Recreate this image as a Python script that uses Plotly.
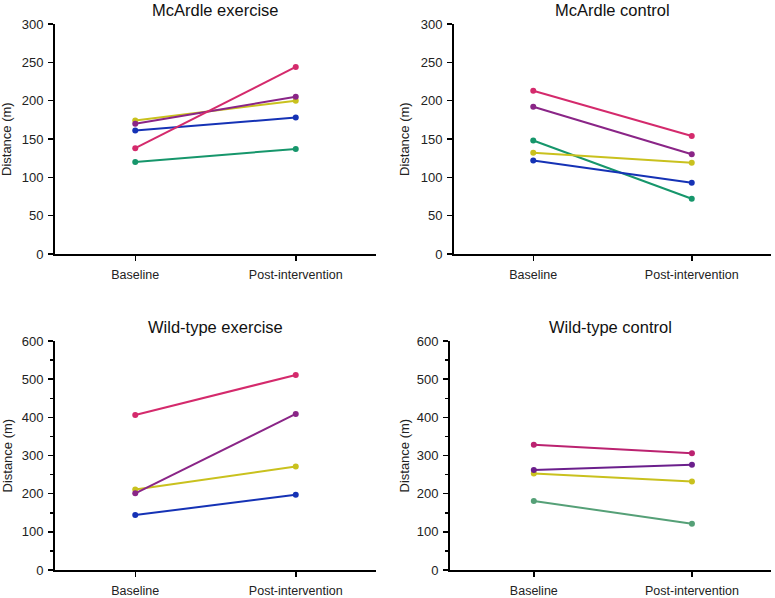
import plotly.graph_objects as go

categories = ["Baseline", "Post-intervention"]

# McArdle exercise
mce_green = [120, 137]
mce_blue = [161, 178]
mce_yellow = [174, 200]
mce_purple = [170, 205]
mce_pink = [138, 244]

# McArdle control
mcc_green = [148, 72]
mcc_blue = [122, 93]
mcc_yellow = [132, 119]
mcc_purple = [192, 130]
mcc_pink = [213, 154]

# Wild-type exercise
wte_blue = [144, 197]
wte_yellow = [211, 271]
wte_purple = [201, 409]
wte_pink = [406, 511]

# Wild-type control
wtc_green = [181, 121]
wtc_yellow = [253, 232]
wtc_purple = [262, 276]
wtc_pink = [328, 306]

PINK = "#d42a6c"
PURPLE = "#8a2587"
YELLOW = "#c9c11e"
BLUE = "#1532b5"
GREEN = "#16966b"
PINK2 = "#bb2270"
PURPLE2 = "#6b1f8c"
GREEN2 = "#55a077"

W, H = 775, 598
FONT = "Liberation Sans, Arial, Helvetica, sans-serif"

panels = [
    # (title, series, x-domain px, y-domain px (top,bottom), ymax, dtick, minor, xrange, ytitle x px)
    ("McArdle exercise",
     [(mce_green, GREEN), (mce_blue, BLUE), (mce_yellow, YELLOW), (mce_purple, PURPLE), (mce_pink, PINK)],
     (55, 376), (24, 254), 300, 50, None, [-0.5, 1.5], 7),
    ("McArdle control",
     [(mcc_green, GREEN), (mcc_blue, BLUE), (mcc_yellow, YELLOW), (mcc_purple, PURPLE), (mcc_pink, PINK)],
     (454, 771), (24, 254), 300, 50, None, [-0.5, 1.5], 405),
    ("Wild-type exercise",
     [(wte_blue, BLUE), (wte_yellow, YELLOW), (wte_purple, PURPLE), (wte_pink, PINK)],
     (55, 376), (341, 570), 600, 100, 50, [-0.5, 1.5], 7),
    ("Wild-type control",
     [(wtc_green, GREEN2), (wtc_yellow, YELLOW), (wtc_purple, PURPLE2), (wtc_pink, PINK2)],
     (450, 771), (341, 570), 600, 100, 50, [-0.53, 1.5], 404),
]


def px_x(p):
    return p / W


def px_y(p):
    return 1 - p / H


fig = go.Figure()
annotations = []
for i, (title, series, xd, yd, ymax, dtick, minor, xr, ytx) in enumerate(panels):
    n = "" if i == 0 else str(i + 1)
    xa = "x" + n
    ya = "y" + n
    for vals, col in series:
        fig.add_trace(go.Scatter(
            x=categories, y=vals, mode="lines+markers",
            line=dict(color=col, width=2),
            marker=dict(color=col, size=6),
            xaxis=xa, yaxis=ya, showlegend=False, hoverinfo="skip",
            cliponaxis=False,
        ))
    xdom = [px_x(xd[0]), px_x(xd[1])]
    ydom = [px_y(yd[1]), px_y(yd[0])]
    fig.layout["xaxis" + n] = dict(
        domain=xdom, anchor=ya, type="category", range=xr,
        showline=True, linecolor="black", linewidth=2,
        ticks="outside", ticklen=5, tickwidth=1.5, tickcolor="black",
        showgrid=False, zeroline=False, automargin=False,
        ticklabelstandoff=3,
        tickfont=dict(family=FONT, size=12.5, color="#222"),
        fixedrange=True,
    )
    yax = dict(
        domain=ydom, anchor=xa, range=[0, ymax],
        tickmode="linear", tick0=0, dtick=dtick,
        showline=True, linecolor="black", linewidth=2,
        ticks="outside", ticklen=5, tickwidth=1.5, tickcolor="black",
        showgrid=False, zeroline=False, automargin=False,
        ticklabelstandoff=2,
        tickfont=dict(family=FONT, size=13, color="#222"),
        fixedrange=True,
    )
    if minor:
        yax["minor"] = dict(dtick=minor, tick0=0, ticks="outside", ticklen=3,
                            tickwidth=1.5, tickcolor="black", showgrid=False)
    fig.layout["yaxis" + n] = yax
    annotations.append(dict(
        text=title, x=(xdom[0] + xdom[1]) / 2, xref="paper",
        y=px_y(yd[0] - 14), yref="paper", xanchor="center", yanchor="middle",
        showarrow=False, font=dict(family=FONT, size=16.5, color="#111"),
    ))
    annotations.append(dict(
        text="Distance (m)", x=px_x(ytx), xref="paper",
        y=px_y((yd[0] + yd[1]) / 2), yref="paper", xanchor="center", yanchor="middle",
        textangle=-90, showarrow=False, font=dict(family=FONT, size=13, color="#222"),
    ))

fig.update_layout(
    width=W, height=H, margin=dict(l=0, r=0, t=0, b=0),
    paper_bgcolor="white", plot_bgcolor="white",
    annotations=annotations, showlegend=False,
)

fig.write_html("out.html", config={"displayModeBar": False, "staticPlot": True},
               post_script="document.body.style.margin='0';")
